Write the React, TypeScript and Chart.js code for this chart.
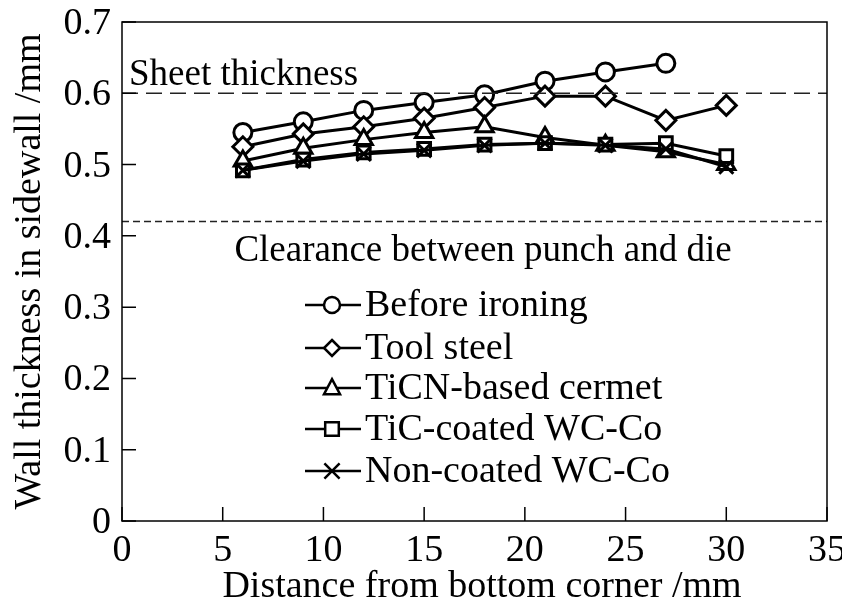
import React, { useEffect, useRef } from "react";
import { Chart, registerables } from "chart.js";

Chart.register(...registerables);

const distances = [6, 9, 12, 15, 18, 21, 24, 27, 30];
const beforeIroning = [0.545, 0.56, 0.576, 0.587, 0.598, 0.617, 0.63, 0.642];
const toolSteel = [0.525, 0.543, 0.553, 0.565, 0.58, 0.596, 0.596, 0.562, 0.583];
const ticnCermet = [0.505, 0.523, 0.535, 0.545, 0.553, 0.538, 0.527, 0.518, 0.5];
const ticCoated = [0.492, 0.507, 0.517, 0.522, 0.528, 0.53, 0.528, 0.53, 0.512];
const nonCoated = [0.492, 0.505, 0.515, 0.52, 0.527, 0.53, 0.527, 0.522, 0.497];

const seriesLabels = [
  "Before ironing",
  "Tool steel",
  "TiCN-based cermet",
  "TiC-coated WC-Co",
  "Non-coated WC-Co",
];
const seriesValues = [beforeIroning, toolSteel, ticnCermet, ticCoated, nonCoated];
const seriesMarkers = ["circle", "rectRot", "triangle", "rect", "crossRot"] as const;
const markerRadii = [9, 10, 10, 9, 10];

const sheetThickness = 0.6;
const clearance = 0.42;
const xTicks = [0, 5, 10, 15, 20, 25, 30, 35];
const yTicks = [0, 0.1, 0.2, 0.3, 0.4, 0.5, 0.6, 0.7];
const xTitle = "Distance from bottom corner /mm";
const yTitle = "Wall thickness in sidewall /mm";

const FONT = "'Liberation Serif', 'Times New Roman', serif";

function drawMarker(ctx: CanvasRenderingContext2D, style: string, x: number, y: number, r: number) {
  ctx.beginPath();
  if (style === "circle") {
    ctx.arc(x, y, r, 0, Math.PI * 2);
  } else if (style === "rectRot") {
    ctx.moveTo(x, y - r);
    ctx.lineTo(x + r, y);
    ctx.lineTo(x, y + r);
    ctx.lineTo(x - r, y);
    ctx.closePath();
  } else if (style === "triangle") {
    const h = r * 1.1;
    ctx.moveTo(x, y - h);
    ctx.lineTo(x + r, y + h * 0.7);
    ctx.lineTo(x - r, y + h * 0.7);
    ctx.closePath();
  } else if (style === "rect") {
    ctx.rect(x - r * 0.85, y - r * 0.85, r * 1.7, r * 1.7);
  } else {
    const d = r * 0.95;
    ctx.moveTo(x - d, y - d);
    ctx.lineTo(x + d, y + d);
    ctx.moveTo(x + d, y - d);
    ctx.lineTo(x - d, y + d);
    ctx.strokeStyle = "#000";
    ctx.stroke();
    return;
  }
  ctx.fillStyle = "#fff";
  ctx.fill();
  ctx.strokeStyle = "#000";
  ctx.stroke();
}

const framePlugin = {
  id: "frameAndNotes",
  afterDatasetsDraw(chart: any) {
    const { ctx, chartArea, scales } = chart;
    const { left, right, top, bottom } = chartArea;
    const xs = scales.x;
    const ys = scales.y;
    ctx.save();

    // reference lines
    ctx.strokeStyle = "#222";
    ctx.lineWidth = 1.5;
    ctx.setLineDash([16, 8]);
    let y = ys.getPixelForValue(sheetThickness);
    ctx.beginPath();
    ctx.moveTo(left, y);
    ctx.lineTo(right, y);
    ctx.stroke();
    ctx.setLineDash([7, 4]);
    y = ys.getPixelForValue(clearance);
    ctx.beginPath();
    ctx.moveTo(left, y);
    ctx.lineTo(right, y);
    ctx.stroke();
    ctx.setLineDash([]);

    // note texts
    ctx.fillStyle = "#000";
    ctx.font = `37px ${FONT}`;
    ctx.textAlign = "left";
    ctx.textBaseline = "alphabetic";
    ctx.fillText("Sheet thickness", left + 7, ys.getPixelForValue(sheetThickness) - 8);
    ctx.textAlign = "center";
    ctx.fillText("Clearance between punch and die", 483, ys.getPixelForValue(clearance) + 39);

    // frame
    ctx.strokeStyle = "#000";
    ctx.lineWidth = 1.5;
    ctx.strokeRect(left, top, right - left, bottom - top);

    // inward ticks
    ctx.beginPath();
    for (const v of xTicks) {
      const px = xs.getPixelForValue(v);
      ctx.moveTo(px, bottom);
      ctx.lineTo(px, bottom - 14);
    }
    for (const v of yTicks) {
      const py = ys.getPixelForValue(v);
      ctx.moveTo(left, py);
      ctx.lineTo(left + 14, py);
    }
    ctx.stroke();

    // tick labels
    ctx.font = `38px ${FONT}`;
    ctx.fillStyle = "#000";
    ctx.textAlign = "center";
    ctx.textBaseline = "middle";
    for (const v of xTicks) {
      ctx.fillText(String(v), xs.getPixelForValue(v), bottom + 30);
    }
    ctx.textAlign = "right";
    for (const v of yTicks) {
      ctx.fillText(v === 0 ? "0" : v.toFixed(1), left - 11, ys.getPixelForValue(v) + 2);
    }

    // axis titles
    ctx.font = `38px ${FONT}`;
    ctx.textAlign = "center";
    ctx.textBaseline = "middle";
    ctx.fillText(xTitle, 482, bottom + 66);
    ctx.save();
    ctx.translate(30, (top + bottom) / 2);
    ctx.rotate(-Math.PI / 2);
    ctx.fillText(yTitle, 0, 0);
    ctx.restore();

    // legend
    const lx0 = 305;
    const lx1 = 361;
    const mx = 332;
    const rowY = [305, 348, 388, 429, 471];
    ctx.font = `38px ${FONT}`;
    ctx.textAlign = "left";
    ctx.textBaseline = "middle";
    seriesLabels.forEach((label, i) => {
      const ry = rowY[i];
      ctx.lineWidth = 2.5;
      ctx.strokeStyle = "#000";
      ctx.beginPath();
      ctx.moveTo(lx0, ry);
      ctx.lineTo(lx1, ry);
      ctx.stroke();
      drawMarker(ctx, seriesMarkers[i], mx, ry, 8);
      ctx.fillStyle = "#000";
      ctx.fillText(label, lx1 + 4, ry + 1);
    });
    ctx.restore();
  },
};

export default function App() {
  const canvasRef = useRef<HTMLCanvasElement | null>(null);

  useEffect(() => {
    if (!canvasRef.current) return;
    const datasets = seriesLabels.map((label, i) => ({
      label,
      data: seriesValues[i].map((v, j) => ({ x: distances[j], y: v })),
      borderColor: "#000",
      borderWidth: 3,
      backgroundColor: "#fff",
      pointStyle: seriesMarkers[i],
      pointRadius: markerRadii[i],
      pointBorderWidth: 3,
      pointBackgroundColor: "#fff",
      pointBorderColor: "#000",
      tension: 0,
      order: 5 - i,
    }));

    const chart = new Chart(canvasRef.current, {
      type: "line",
      data: { datasets },
      options: {
        animation: false,
        responsive: false,
        devicePixelRatio: 1,
        layout: { padding: { top: 22, right: 15, left: 0, bottom: 0 } },
        plugins: { legend: { display: false }, tooltip: { enabled: false } },
        scales: {
          x: {
            type: "linear",
            min: 0,
            max: 35,
            afterBuildTicks: (s: any) => {
              s.ticks = xTicks.map((v) => ({ value: v }));
            },
            afterFit: (s: any) => {
              s.height = 86;
              s.paddingLeft = 0;
              s.paddingRight = 0;
            },
            grid: { display: false, drawTicks: false },
            border: { display: false },
            ticks: { display: false },
          },
          y: {
            type: "linear",
            min: 0,
            max: 0.7,
            afterBuildTicks: (s: any) => {
              s.ticks = yTicks.map((v) => ({ value: v }));
            },
            afterFit: (s: any) => {
              s.width = 122;
              s.paddingTop = 0;
              s.paddingBottom = 0;
            },
            grid: { display: false, drawTicks: false },
            border: { display: false },
            ticks: { display: false },
          },
        },
      },
      plugins: [framePlugin],
    });
    return () => chart.destroy();
  }, []);

  return (
    <div style={{ position: "absolute", left: 0, top: 0, width: 842, height: 607, background: "#fff" }}>
      <canvas ref={canvasRef} width={842} height={607} />
    </div>
  );
}
